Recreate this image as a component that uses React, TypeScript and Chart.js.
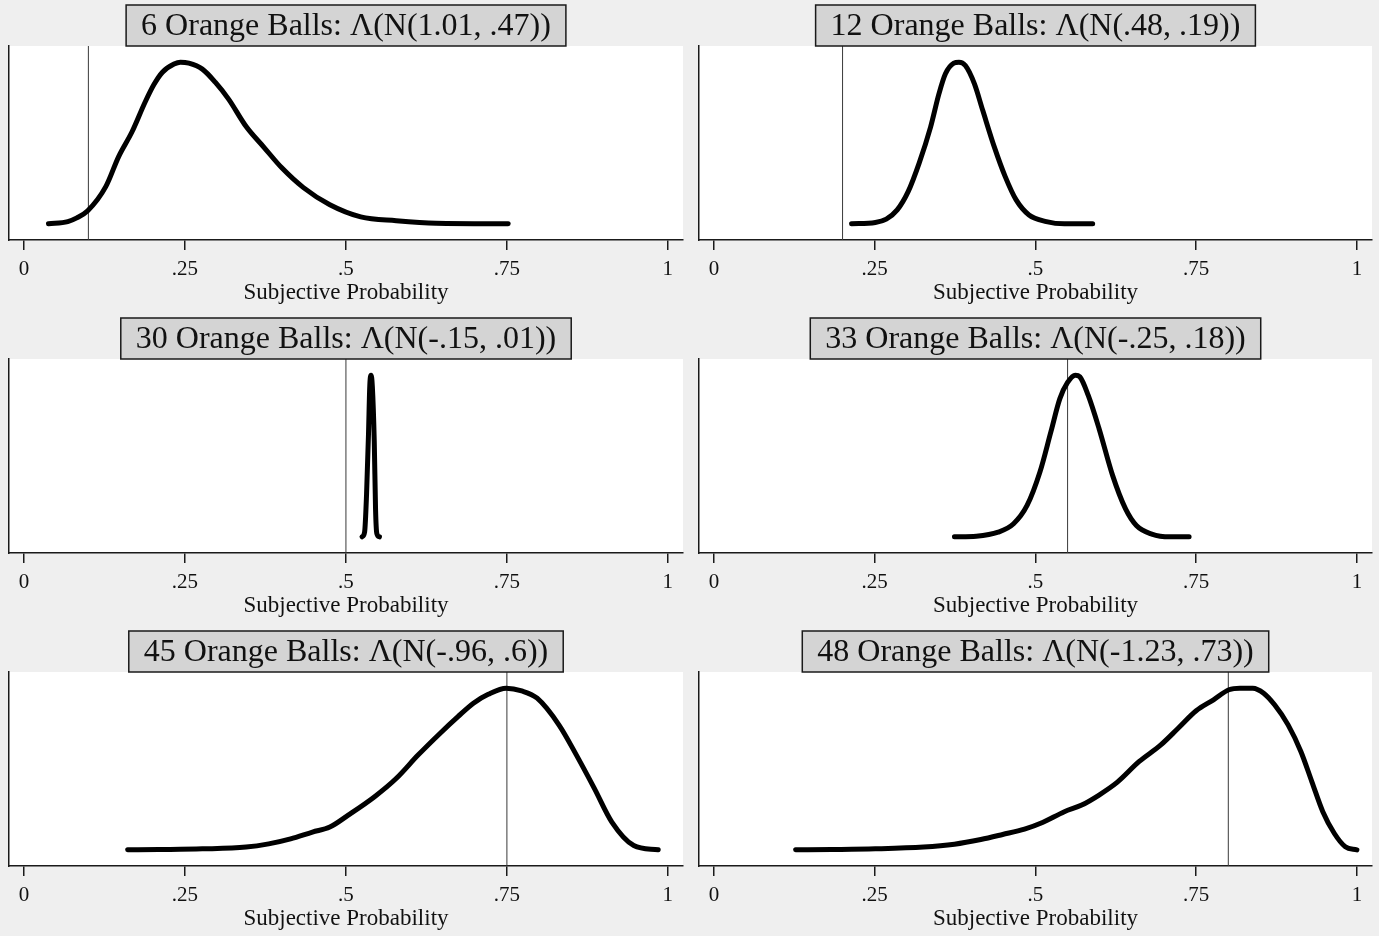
import React, { useEffect, useRef } from 'react';
import { Chart, registerables } from 'chart.js';

Chart.register(...registerables);

const FONT = '"Liberation Serif", "DejaVu Serif", serif';

// x axis
const tickValues = [0, 0.25, 0.5, 0.75, 1];
const tickLabels = ['0', '.25', '.5', '.75', '1'];

// panel titles and the vertical reference line of each panel
const titles = [
  '6 Orange Balls: Λ(N(1.01, .47))',
  '12 Orange Balls: Λ(N(.48, .19))',
  '30 Orange Balls: Λ(N(-.15, .01))',
  '33 Orange Balls: Λ(N(-.25, .18))',
  '45 Orange Balls: Λ(N(-.96, .6))',
  '48 Orange Balls: Λ(N(-1.23, .73))',
];
const markers = [0.1, 0.2, 0.5, 0.55, 0.75, 0.8];

// densities (height relative to each panel's peak)
const balls6X = [0.038, 0.068, 0.082, 0.099, 0.127, 0.147, 0.168, 0.188, 0.202, 0.215, 0.233, 0.243, 0.256, 0.277, 0.297, 0.318, 0.345, 0.373, 0.4, 0.434, 0.475, 0.523, 0.578, 0.64, 0.752];
const balls6Y = [0, 0.014, 0.037, 0.081, 0.23, 0.416, 0.571, 0.752, 0.863, 0.938, 0.988, 1, 0.994, 0.957, 0.876, 0.77, 0.602, 0.472, 0.348, 0.224, 0.118, 0.043, 0.019, 0.003, 0];

const balls12X = [0.214, 0.251, 0.268, 0.285, 0.302, 0.319, 0.337, 0.35, 0.36, 0.373, 0.381, 0.391, 0.405, 0.418, 0.436, 0.453, 0.47, 0.49, 0.517, 0.545, 0.589];
const balls12Y = [0, 0.008, 0.029, 0.086, 0.199, 0.374, 0.6, 0.805, 0.928, 0.994, 1, 0.979, 0.867, 0.702, 0.476, 0.292, 0.148, 0.055, 0.014, 0, 0];

const balls30X = [0.525, 0.529, 0.532, 0.535, 0.537, 0.539, 0.541, 0.544, 0.546, 0.548, 0.552];
const balls30Y = [0, 0.03, 0.26, 0.63, 0.93, 1, 0.93, 0.59, 0.17, 0.02, 0];

const balls33X = [0.374, 0.408, 0.442, 0.466, 0.487, 0.507, 0.524, 0.538, 0.55, 0.562, 0.569, 0.582, 0.599, 0.62, 0.64, 0.657, 0.681, 0.709, 0.739];
const balls33Y = [0, 0.004, 0.029, 0.081, 0.194, 0.401, 0.649, 0.855, 0.955, 1, 0.99, 0.876, 0.669, 0.38, 0.174, 0.07, 0.017, 0, 0];

const balls45X = [0.161, 0.209, 0.277, 0.345, 0.38, 0.414, 0.448, 0.475, 0.503, 0.544, 0.578, 0.612, 0.646, 0.674, 0.698, 0.721, 0.749, 0.773, 0.797, 0.831, 0.858, 0.886, 0.913, 0.947, 0.985];
const balls45Y = [0, 0.002, 0.006, 0.017, 0.037, 0.068, 0.11, 0.141, 0.213, 0.327, 0.441, 0.586, 0.72, 0.824, 0.907, 0.962, 1, 0.983, 0.938, 0.772, 0.586, 0.379, 0.172, 0.027, 0];

const balls48X = [0.127, 0.183, 0.251, 0.326, 0.374, 0.415, 0.449, 0.483, 0.511, 0.545, 0.572, 0.599, 0.627, 0.661, 0.695, 0.722, 0.75, 0.777, 0.801, 0.818, 0.838, 0.855, 0.872, 0.893, 0.913, 0.93, 0.947, 0.965, 0.982, 1];
const balls48Y = [0, 0.002, 0.006, 0.017, 0.035, 0.064, 0.095, 0.128, 0.169, 0.236, 0.277, 0.339, 0.417, 0.545, 0.649, 0.752, 0.86, 0.928, 0.99, 1, 1, 0.969, 0.897, 0.773, 0.607, 0.421, 0.236, 0.101, 0.019, 0];

const curvesX = [balls6X, balls12X, balls30X, balls33X, balls45X, balls48X];
const curvesY = [balls6Y, balls12Y, balls30Y, balls33Y, balls45Y, balls48Y];

const Y_MIN = -0.1;
const Y_MAX = 1.1;

interface PanelProps {
  title: string;
  xs: number[];
  ys: number[];
  marker: number;
  left: number;
  top: number;
  width: number;
  height: number;
}

const Panel: React.FC<PanelProps> = ({ title, xs, ys, marker, left, top, width, height }) => {
  const chartRef = useRef<HTMLCanvasElement>(null);

  useEffect(() => {
    if (!chartRef.current) return;

    const boxPlugin = {
      id: 'stataBox',
      beforeDraw: (chart: any) => {
        const { ctx, chartArea } = chart;
        ctx.save();
        ctx.fillStyle = '#ffffff';
        ctx.fillRect(chartArea.left, chartArea.top, chartArea.right - chartArea.left, chartArea.bottom - chartArea.top);
        ctx.restore();
      },
      afterDraw: (chart: any) => {
        const { ctx, chartArea } = chart;
        ctx.save();
        ctx.font = `32px ${FONT}`;
        const tw = ctx.measureText(title).width;
        const cx = (chartArea.left + chartArea.right) / 2;
        const bw = tw + 30;
        const by = 5;
        const bh = chartArea.top - by;
        ctx.fillStyle = '#d4d4d4';
        ctx.fillRect(cx - bw / 2, by, bw, bh);
        ctx.strokeStyle = '#1a1a1a';
        ctx.lineWidth = 1.5;
        ctx.strokeRect(cx - bw / 2, by, bw, bh);
        ctx.fillStyle = '#111111';
        ctx.textAlign = 'center';
        ctx.textBaseline = 'middle';
        ctx.fillText(title, cx, by + bh / 2 + 1);
        ctx.restore();
      },
    };

    const chart = new Chart(chartRef.current, {
      type: 'line',
      data: {
        datasets: [
          {
            data: xs.map((x, i) => ({ x, y: ys[i] })),
            borderColor: '#000000',
            borderWidth: 5,
            borderCapStyle: 'round',
            borderJoinStyle: 'round',
            pointRadius: 0,
            cubicInterpolationMode: 'monotone',
            fill: false,
          },
          {
            data: [{ x: marker, y: Y_MIN }, { x: marker, y: Y_MAX }],
            borderColor: '#3a3a3a',
            borderWidth: 1,
            pointRadius: 0,
            fill: false,
          },
        ],
      },
      options: {
        responsive: false,
        animation: false,
        layout: { padding: { left: 9, right: 7, top: 46, bottom: 0 } },
        plugins: {
          legend: { display: false },
          tooltip: { enabled: false },
        },
        scales: {
          x: {
            type: 'linear',
            min: -0.0233,
            max: 1.0235,
            afterBuildTicks: (scale: any) => {
              scale.ticks = tickValues.map((v) => ({ value: v }));
            },
            afterFit: (scale: any) => {
              scale.height = 73;
            },
            ticks: {
              color: '#111111',
              font: { family: FONT, size: 21 },
              padding: 7,
              maxRotation: 0,
              autoSkip: false,
              callback: (v: any) => {
                const i = tickValues.indexOf(Number(v));
                return i >= 0 ? tickLabels[i] : '';
              },
            },
            grid: {
              display: true,
              drawOnChartArea: false,
              drawTicks: true,
              tickLength: 10,
              color: '#1a1a1a',
              lineWidth: 1.5,
            },
            border: { display: true, color: '#1a1a1a', width: 1.5 },
            title: {
              display: true,
              text: 'Subjective Probability',
              color: '#111111',
              font: { family: FONT, size: 23 },
              padding: { top: 0, bottom: 6 },
            },
          },
          y: {
            min: Y_MIN,
            max: Y_MAX,
            afterFit: (scale: any) => {
              scale.width = 0;
            },
            ticks: { display: false },
            grid: { display: false },
            border: { display: true, color: '#1a1a1a', width: 1.5 },
          },
        },
      },
      plugins: [boxPlugin],
    } as any);

    return () => {
      chart.destroy();
    };
  }, [title, xs, ys, marker]);

  return (
    <div style={{ position: 'absolute', left, top, width, height }}>
      <canvas ref={chartRef} width={width} height={height} style={{ width, height }} />
    </div>
  );
};

const App: React.FC = () => {
  const colLeft = [0, 690];
  const colWidth = [690, 689];
  const rowTop = [0, 313, 626];

  return (
    <div
      style={{
        position: 'absolute',
        left: 0,
        top: 0,
        width: 1379,
        height: 936,
        background: '#efefef',
        overflow: 'hidden',
      }}
    >
      {titles.map((t, i) => (
        <Panel
          key={t}
          title={t}
          xs={curvesX[i]}
          ys={curvesY[i]}
          marker={markers[i]}
          left={colLeft[i % 2]}
          top={rowTop[Math.floor(i / 2)]}
          width={colWidth[i % 2]}
          height={313}
        />
      ))}
    </div>
  );
};

export default App;
